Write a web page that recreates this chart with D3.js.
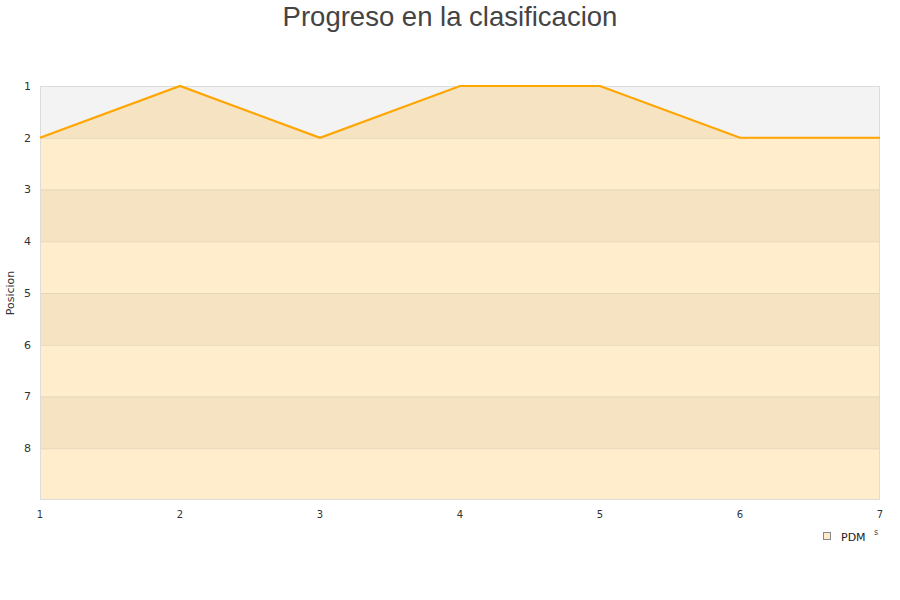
<!DOCTYPE html>
<html><head><meta charset="utf-8">
<script src="https://cdn.jsdelivr.net/npm/d3@7"></script>
<style>body{margin:0;background:#fff}svg{display:block}</style>
</head><body>
<svg id="c" width="900" height="600"></svg>
<script>
const jornadas = [1,2,3,4,5,6,7];
const posiciones = [2,1,2,1,1,2,2];
const yTicks = [1,2,3,4,5,6,7,8];
const seriesName = "PDM";
const title = "Progreso en la clasificacion";
const yTitle = "Posicion";

const svg = d3.select("#c");
const L=40,R=880,T=86,B=500;
const x = d3.scaleLinear().domain([1,7]).range([L,R]);
const y = d3.scaleLinear().domain([1,9]).range([T,B]);

const bands = d3.range(1,9);
svg.append("g").selectAll("rect").data(bands).join("rect")
  .attr("x",L).attr("width",R-L)
  .attr("y",d=>y(d)).attr("height",d=>y(d+1)-y(d))
  .attr("fill",d=>d%2===1?"#f3f3f3":"#ffffff");

const area = d3.area().x((d,i)=>x(jornadas[i])).y0(y(9)).y1(d=>y(d));
svg.append("path").datum(posiciones).attr("d",area)
  .attr("fill","rgba(255,165,0,0.2)");

svg.append("g").selectAll("line").data(yTicks.slice(1)).join("line")
  .attr("x1",L).attr("x2",R).attr("y1",d=>y(d)+0.5).attr("y2",d=>y(d)+0.5)
  .attr("stroke","#e6d6b8").attr("stroke-width",1);

svg.append("rect").attr("x",L+0.5).attr("y",T+0.5).attr("width",R-L-1).attr("height",B-T-1)
  .attr("fill","none").attr("stroke","#dcdcdc");

const line = d3.line().x((d,i)=>x(jornadas[i])).y(d=>y(d));
svg.append("path").datum(posiciones).attr("d",line)
  .attr("fill","none").attr("stroke","#ffa500").attr("stroke-width",2.2);

svg.append("g").selectAll("text").data(yTicks).join("text")
  .attr("x",31).attr("y",d=>y(d)).attr("dy","0.35em").attr("text-anchor","end")
  .attr("font-family","DejaVu Sans").attr("font-size",11).attr("fill","#333")
  .text(d=>d);

svg.append("g").selectAll("text").data(jornadas).join("text")
  .attr("x",d=>x(d)).attr("y",514).attr("dy","0.35em").attr("text-anchor","middle")
  .attr("font-family","DejaVu Sans").attr("font-size",10).attr("fill","#333")
  .text(d=>d);

svg.append("text").attr("transform","translate(14,293) rotate(-90)")
  .attr("text-anchor","middle").attr("font-family","DejaVu Sans").attr("font-size",11)
  .attr("fill","#333").text(yTitle);

svg.append("text").attr("x",450).attr("y",16).attr("dy","0.35em").attr("text-anchor","middle")
  .attr("font-family","Liberation Sans").attr("font-size",27.5).attr("fill","#444").text(title);

svg.append("rect").attr("x",823.5).attr("y",532.5).attr("width",7).attr("height",7)
  .attr("fill","#fdebcb").attr("stroke","#888");
svg.append("text").attr("x",841).attr("y",537).attr("dy","0.35em")
  .attr("font-family","DejaVu Sans").attr("font-size",11).attr("fill","#222").text(seriesName);
svg.append("text").attr("x",876).attr("y",532).attr("dy","0.35em").attr("text-anchor","middle")
  .attr("font-family","DejaVu Sans").attr("font-size",8).attr("fill","#444").text("s");
</script>
</body></html>
